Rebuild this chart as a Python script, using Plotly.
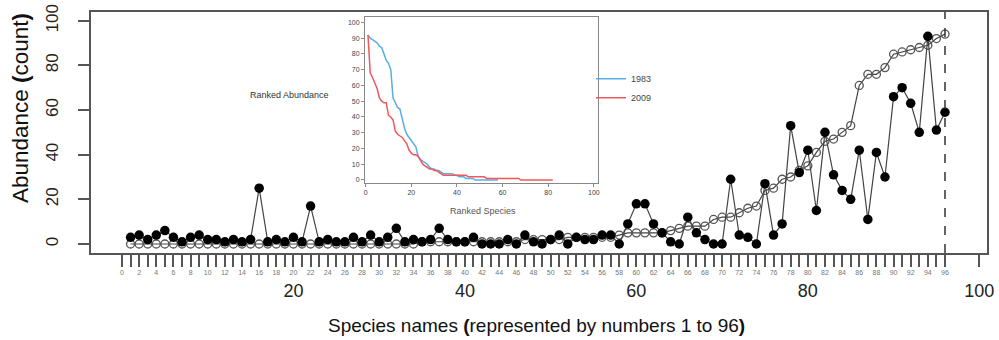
import plotly.graph_objects as go

# ---------------- data ----------------
species = list(range(1, 97))

abund_2009 = [3, 4, 2, 4, 6, 3, 1, 3, 4, 2,
              2, 1, 2, 1, 2, 25, 1, 2, 1, 3,
              1, 17, 1, 2, 1, 1, 3, 1, 4, 1,
              3, 7, 1, 2, 1, 2, 7, 2, 1, 1,
              3, 0, 0, 0, 2, 0, 4, 1, 0, 2,
              4, 0, 3, 2, 2, 4, 4, 0, 9, 18,
              18, 9, 5, 1, 0, 12, 5, 2, 0, 0,
              29, 4, 3, 0, 27, 4, 9, 53, 32, 42,
              15, 50, 31, 24, 20, 42, 11, 41, 30, 66,
              70, 63, 50, 93, 51, 59]

abund_1983 = [0, 0, 0, 0, 0, 0, 0, 0, 0, 0,
              0, 0, 0, 0, 0, 0, 0, 0, 0, 0,
              0, 0, 0, 0, 0, 0, 0, 0, 0, 0,
              0, 0, 0, 0, 1, 1, 1, 1, 1, 1,
              1, 1, 1, 1, 1, 1, 2, 2, 2, 2,
              2, 3, 3, 3, 3, 3, 3, 4, 5, 5,
              5, 5, 5, 6, 7, 8, 8, 8, 11, 12,
              12, 14, 16, 17, 24, 25, 29, 30, 33, 35,
              41, 46, 47, 50, 53, 71, 76, 76, 79, 85,
              86, 87, 88, 89, 92, 94]

# inset: ranked abundance curves
ranked_1983 = [92, 90, 89, 88, 87, 85, 84, 80, 76, 74,
               70, 52, 49, 46, 45, 38, 33, 29, 27, 25,
               23, 21, 15, 13, 12, 11, 10, 8, 7, 7,
               6, 6, 5, 4, 4, 4, 4, 4, 3, 3,
               2, 2, 2, 1, 1, 1, 1, 0, 0, 0,
               0, 0, 0, 0, 0, 0, 0, 0]
ranked_2009 = [92, 68, 65, 62, 58, 52, 50, 49, 49, 41,
               40, 38, 31, 29, 28, 27, 25, 23, 19, 17,
               16, 16, 15, 12, 10, 9, 8, 7, 7, 6,
               6, 5, 4, 3, 3, 3, 3, 3, 3, 3,
               3, 3, 3, 3, 2, 2, 2, 2, 2, 2,
               2, 2, 1, 1, 1, 1, 1, 1, 1, 1,
               1, 1, 1, 1, 1, 1, 1, 0, 0, 0,
               0, 0, 0, 0, 0, 0, 0, 0, 0, 0,
               0, 0]
rank_1983 = list(range(1, len(ranked_1983) + 1))
rank_2009 = list(range(1, len(ranked_2009) + 1))

small_ticks = list(range(0, 97))
small_labels = [str(v) if v % 2 == 0 else "" for v in small_ticks]
major_ticks = [0, 20, 40, 60, 80, 100]
major_labels = ["", "20", "40", "60", "80", "100"]
y_ticks = [0, 20, 40, 60, 80, 100]
inset_x_ticks = [0, 20, 40, 60, 80, 100]
inset_y_ticks = [0, 10, 20, 30, 40, 50, 60, 70, 80, 90, 100]

FONT = "Liberation Sans, Arial, sans-serif"

fig = go.Figure()

fig.add_trace(go.Scatter(
    x=species, y=abund_1983, mode="lines+markers",
    line=dict(color="#444444", width=1.2),
    marker=dict(symbol="circle-open", size=8, color="#555555", line=dict(width=1.3)),
    showlegend=False, hoverinfo="skip", xaxis="x", yaxis="y"))
fig.add_trace(go.Scatter(
    x=species, y=abund_2009, mode="lines+markers",
    line=dict(color="#444444", width=1.2),
    marker=dict(symbol="circle", size=9.5, color="black"),
    showlegend=False, hoverinfo="skip", xaxis="x", yaxis="y"))
# invisible helper so the secondary (major) x axis is drawn
fig.add_trace(go.Scatter(
    x=species, y=abund_2009, mode="markers", marker=dict(opacity=0),
    showlegend=False, hoverinfo="skip", xaxis="x2", yaxis="y"))

fig.add_trace(go.Scatter(
    x=rank_1983, y=ranked_1983, mode="lines", name="1983",
    line=dict(color="#5aaee6", width=1.5), xaxis="x3", yaxis="y3"))
fig.add_trace(go.Scatter(
    x=rank_2009, y=ranked_2009, mode="lines", name="2009",
    line=dict(color="#f0585c", width=1.5), xaxis="x3", yaxis="y3"))

fig.add_shape(type="line", xref="x", yref="paper",
              x0=species[-1], x1=species[-1], y0=0, y1=1,
              line=dict(color="#333333", width=1.5, dash="dash"))

fig.update_layout(
    width=999, height=340,
    margin=dict(l=91, r=12, t=12, b=87),
    paper_bgcolor="white", plot_bgcolor="white",
    font=dict(family=FONT, color="#222222"),
    xaxis=dict(range=[-3.616, 100.9], tickmode="array", tickvals=small_ticks,
               ticktext=small_labels, ticks="outside", ticklen=12, tickwidth=1.5,
               tickcolor="#555555", tickfont=dict(size=7, color="#777777"),
               showline=True, mirror=True, linecolor="#555555", linewidth=2,
               showgrid=False, zeroline=False, automargin=False, anchor="y"),
    xaxis2=dict(range=[-3.616, 100.9], overlaying="x", anchor="y", side="bottom",
                tickmode="array", tickvals=major_ticks, ticktext=major_labels,
                ticks="outside", ticklen=13, tickwidth=1.5, tickcolor="#555555",
                tickfont=dict(size=18, color="#222222"), ticklabelstandoff=8,
                showline=False, showgrid=False, zeroline=False, automargin=False),
    yaxis=dict(range=[-4.03, 103.9], tickmode="array", tickvals=y_ticks,
               ticks="outside", ticklen=11, tickwidth=1.5, tickcolor="#555555",
               tickangle=-90, tickfont=dict(size=17, color="#222222"),
               ticklabelstandoff=13, ticklabeloverflow="allow",
               showline=True, mirror=True, linecolor="#555555", linewidth=2,
               showgrid=False, zeroline=False, automargin=False, anchor="x"),
    xaxis3=dict(domain=[0.3058, 0.5658], anchor="y3", range=[-0.3, 101.8],
                tickmode="array", tickvals=inset_x_ticks, ticks="outside", ticklen=3,
                tickcolor="#888888", tickfont=dict(size=7, color="#444444"),
                showline=True, mirror=True, linecolor="#888888", linewidth=1,
                showgrid=False, zeroline=False, automargin=False),
    yaxis3=dict(domain=[0.2905, 0.9793], anchor="x3", range=[-1.9, 103.4],
                tickmode="array", tickvals=inset_y_ticks, ticks="outside", ticklen=3,
                tickcolor="#888888", tickfont=dict(size=7, color="#444444"),
                showline=True, mirror=True, linecolor="#888888", linewidth=1,
                showgrid=False, zeroline=False, automargin=False),
    legend=dict(x=0.558, y=0.7835, xanchor="left", yanchor="top",
                bgcolor="rgba(0,0,0,0)", font=dict(size=9, color="#444444"),
                itemwidth=30),
    annotations=[
        dict(text="Abundance <b>(</b>count<b>)</b>", xref="paper", yref="paper",
             x=-0.078, y=0.6017, xanchor="center", yanchor="middle", textangle=-90,
             showarrow=False, font=dict(size=22.5, color="#111111")),
        dict(text="Species names <b>(</b>represented by numbers 1 to 96<b>)</b>",
             xref="paper", yref="paper", x=0.4967, y=-0.3029,
             xanchor="center", yanchor="middle", showarrow=False,
             font=dict(size=19, color="#111111")),
        dict(text="Ranked Abundance", xref="paper", yref="paper", x=0.221, y=0.6556,
             xanchor="center", yanchor="middle", showarrow=False,
             font=dict(size=9, color="#333333")),
        dict(text="Ranked Species", xref="paper", yref="paper", x=0.4375, y=0.1743,
             xanchor="center", yanchor="middle", showarrow=False,
             font=dict(size=9, color="#555555")),
    ],
)

# remove the default page margin so the 999x340 figure fills the window exactly
fig.write_html("out.html",
               config={"displayModeBar": False},
               post_script="document.body.style.margin='0';"
                           "document.documentElement.style.overflow='hidden';")
